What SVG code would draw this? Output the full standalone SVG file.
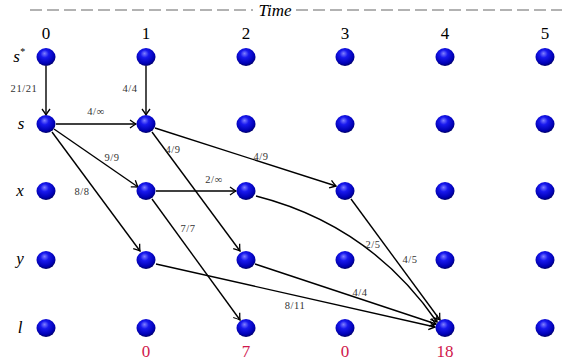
<svg xmlns="http://www.w3.org/2000/svg" width="563" height="362" viewBox="0 0 563 362">
<style>
.n{fill:url(#ball)}
.e{fill:none;stroke:#000;stroke-width:1.4;marker-end:url(#ah)}
.lb{font-family:"Liberation Serif",serif;font-size:10.5px;fill:#333;text-anchor:middle;letter-spacing:0.6px}
.col{font-family:"Liberation Serif",serif;font-size:17px;fill:#000;text-anchor:middle}
.row{font-family:"Liberation Serif",serif;font-style:italic;font-size:17px;fill:#000;text-anchor:middle}
.bot{font-family:"Liberation Serif",serif;font-size:17px;fill:#d0184c;text-anchor:middle}
</style>
<defs>
<radialGradient id="ball" cx="0.45" cy="0.38" r="0.62" fx="0.42" fy="0.3">
<stop offset="0" stop-color="#8080ff"/>
<stop offset="0.35" stop-color="#1818ee"/>
<stop offset="0.8" stop-color="#0000b4"/>
<stop offset="1" stop-color="#000066"/>
</radialGradient>
<marker id="ah" markerUnits="userSpaceOnUse" markerWidth="12" markerHeight="12" refX="0" refY="0" viewBox="-8 -6 10 12" orient="auto" overflow="visible">
<path d="M-6,-4 Q-2,-1 0,0 Q-2,1 -6,4" fill="none" stroke="#000" stroke-width="1.3"/>
</marker>
</defs>
<g id="timeaxis">
<line x1="30" y1="10" x2="253" y2="10" stroke="#999" stroke-width="1.3" stroke-dasharray="12,5"/>
<line x1="296" y1="10" x2="562" y2="10" stroke="#999" stroke-width="1.3" stroke-dasharray="12,5"/>
<text x="275" y="16" font-family="Liberation Serif,serif" font-style="italic" font-size="17" text-anchor="middle">Time</text>
</g>
<g id="columns">
<text class="col" x="46" y="39">0</text>
<text class="col" x="146" y="39">1</text>
<text class="col" x="246" y="39">2</text>
<text class="col" x="345" y="39">3</text>
<text class="col" x="445" y="39">4</text>
<text class="col" x="545" y="39">5</text>
</g>
<g id="rows">
<text class="row" x="19" y="62">s<tspan font-size="10" dy="-7">*</tspan></text>
<text class="row" x="21" y="129">s</text>
<text class="row" x="20" y="196">x</text>
<text class="row" x="20" y="264">y</text>
<text class="row" x="20" y="333">l</text>
</g>
<g id="connectors">
<path class="e" d="M46,66 L46,115"/>
<path class="e" d="M146,66 L146,115"/>
<path class="e" d="M56,124 L136,124"/>
<path class="e" d="M54,129 L138,187"/>
<path class="e" d="M52,132 L140,251"/>
<path class="e" d="M152,132 L240,251"/>
<path class="e" d="M155,128 L336,186"/>
<path class="e" d="M156,191 L236,191"/>
<path class="e" d="M152,199 L240,320"/>
<path class="e" d="M256,196 Q370,225 437,322"/>
<path class="e" d="M351,199 L440,320"/>
<path class="e" d="M255,264 L436,324"/>
<path class="e" d="M156,264 L435,327"/>
</g>
<g id="edgelabels">
<text class="lb" x="24" y="92">21/21</text>
<text class="lb" x="130" y="92">4/4</text>
<text class="lb" x="96" y="115">4/∞</text>
<text class="lb" x="112" y="161">9/9</text>
<text class="lb" x="82" y="195">8/8</text>
<text class="lb" x="173" y="153">4/9</text>
<text class="lb" x="261" y="160">4/9</text>
<text class="lb" x="214" y="183">2/∞</text>
<text class="lb" x="188" y="232">7/7</text>
<text class="lb" x="373" y="248">2/5</text>
<text class="lb" x="410" y="263">4/5</text>
<text class="lb" x="360" y="296">4/4</text>
<text class="lb" x="295" y="309">8/11</text>
</g>
<g id="n-s*-0"><ellipse class="n" cx="46" cy="57" rx="9.5" ry="9"/></g>
<g id="n-s*-1"><ellipse class="n" cx="146" cy="57" rx="9.5" ry="9"/></g>
<g id="n-s*-2"><ellipse class="n" cx="246" cy="57" rx="9.5" ry="9"/></g>
<g id="n-s*-3"><ellipse class="n" cx="345" cy="57" rx="9.5" ry="9"/></g>
<g id="n-s*-4"><ellipse class="n" cx="445" cy="57" rx="9.5" ry="9"/></g>
<g id="n-s*-5"><ellipse class="n" cx="545" cy="57" rx="9.5" ry="9"/></g>
<g id="n-s-0"><ellipse class="n" cx="46" cy="124" rx="9.5" ry="9"/></g>
<g id="n-s-1"><ellipse class="n" cx="146" cy="124" rx="9.5" ry="9"/></g>
<g id="n-s-2"><ellipse class="n" cx="246" cy="124" rx="9.5" ry="9"/></g>
<g id="n-s-3"><ellipse class="n" cx="345" cy="124" rx="9.5" ry="9"/></g>
<g id="n-s-4"><ellipse class="n" cx="445" cy="124" rx="9.5" ry="9"/></g>
<g id="n-s-5"><ellipse class="n" cx="545" cy="124" rx="9.5" ry="9"/></g>
<g id="n-x-0"><ellipse class="n" cx="46" cy="191" rx="9.5" ry="9"/></g>
<g id="n-x-1"><ellipse class="n" cx="146" cy="191" rx="9.5" ry="9"/></g>
<g id="n-x-2"><ellipse class="n" cx="246" cy="191" rx="9.5" ry="9"/></g>
<g id="n-x-3"><ellipse class="n" cx="345" cy="191" rx="9.5" ry="9"/></g>
<g id="n-x-4"><ellipse class="n" cx="445" cy="191" rx="9.5" ry="9"/></g>
<g id="n-x-5"><ellipse class="n" cx="545" cy="191" rx="9.5" ry="9"/></g>
<g id="n-y-0"><ellipse class="n" cx="46" cy="260" rx="9.5" ry="9"/></g>
<g id="n-y-1"><ellipse class="n" cx="146" cy="260" rx="9.5" ry="9"/></g>
<g id="n-y-2"><ellipse class="n" cx="246" cy="260" rx="9.5" ry="9"/></g>
<g id="n-y-3"><ellipse class="n" cx="345" cy="260" rx="9.5" ry="9"/></g>
<g id="n-y-4"><ellipse class="n" cx="445" cy="260" rx="9.5" ry="9"/></g>
<g id="n-y-5"><ellipse class="n" cx="545" cy="260" rx="9.5" ry="9"/></g>
<g id="n-l-0"><ellipse class="n" cx="46" cy="328" rx="9.5" ry="9"/></g>
<g id="n-l-1"><ellipse class="n" cx="146" cy="328" rx="9.5" ry="9"/></g>
<g id="n-l-2"><ellipse class="n" cx="246" cy="328" rx="9.5" ry="9"/></g>
<g id="n-l-3"><ellipse class="n" cx="345" cy="328" rx="9.5" ry="9"/></g>
<g id="n-l-4"><ellipse class="n" cx="445" cy="328" rx="9.5" ry="9"/></g>
<g id="n-l-5"><ellipse class="n" cx="545" cy="328" rx="9.5" ry="9"/></g>
<g id="bottom">
<text class="bot" x="146" y="357">0</text>
<text class="bot" x="246" y="357">7</text>
<text class="bot" x="345" y="357">0</text>
<text class="bot" x="445" y="357">18</text>
</g>
</svg>
